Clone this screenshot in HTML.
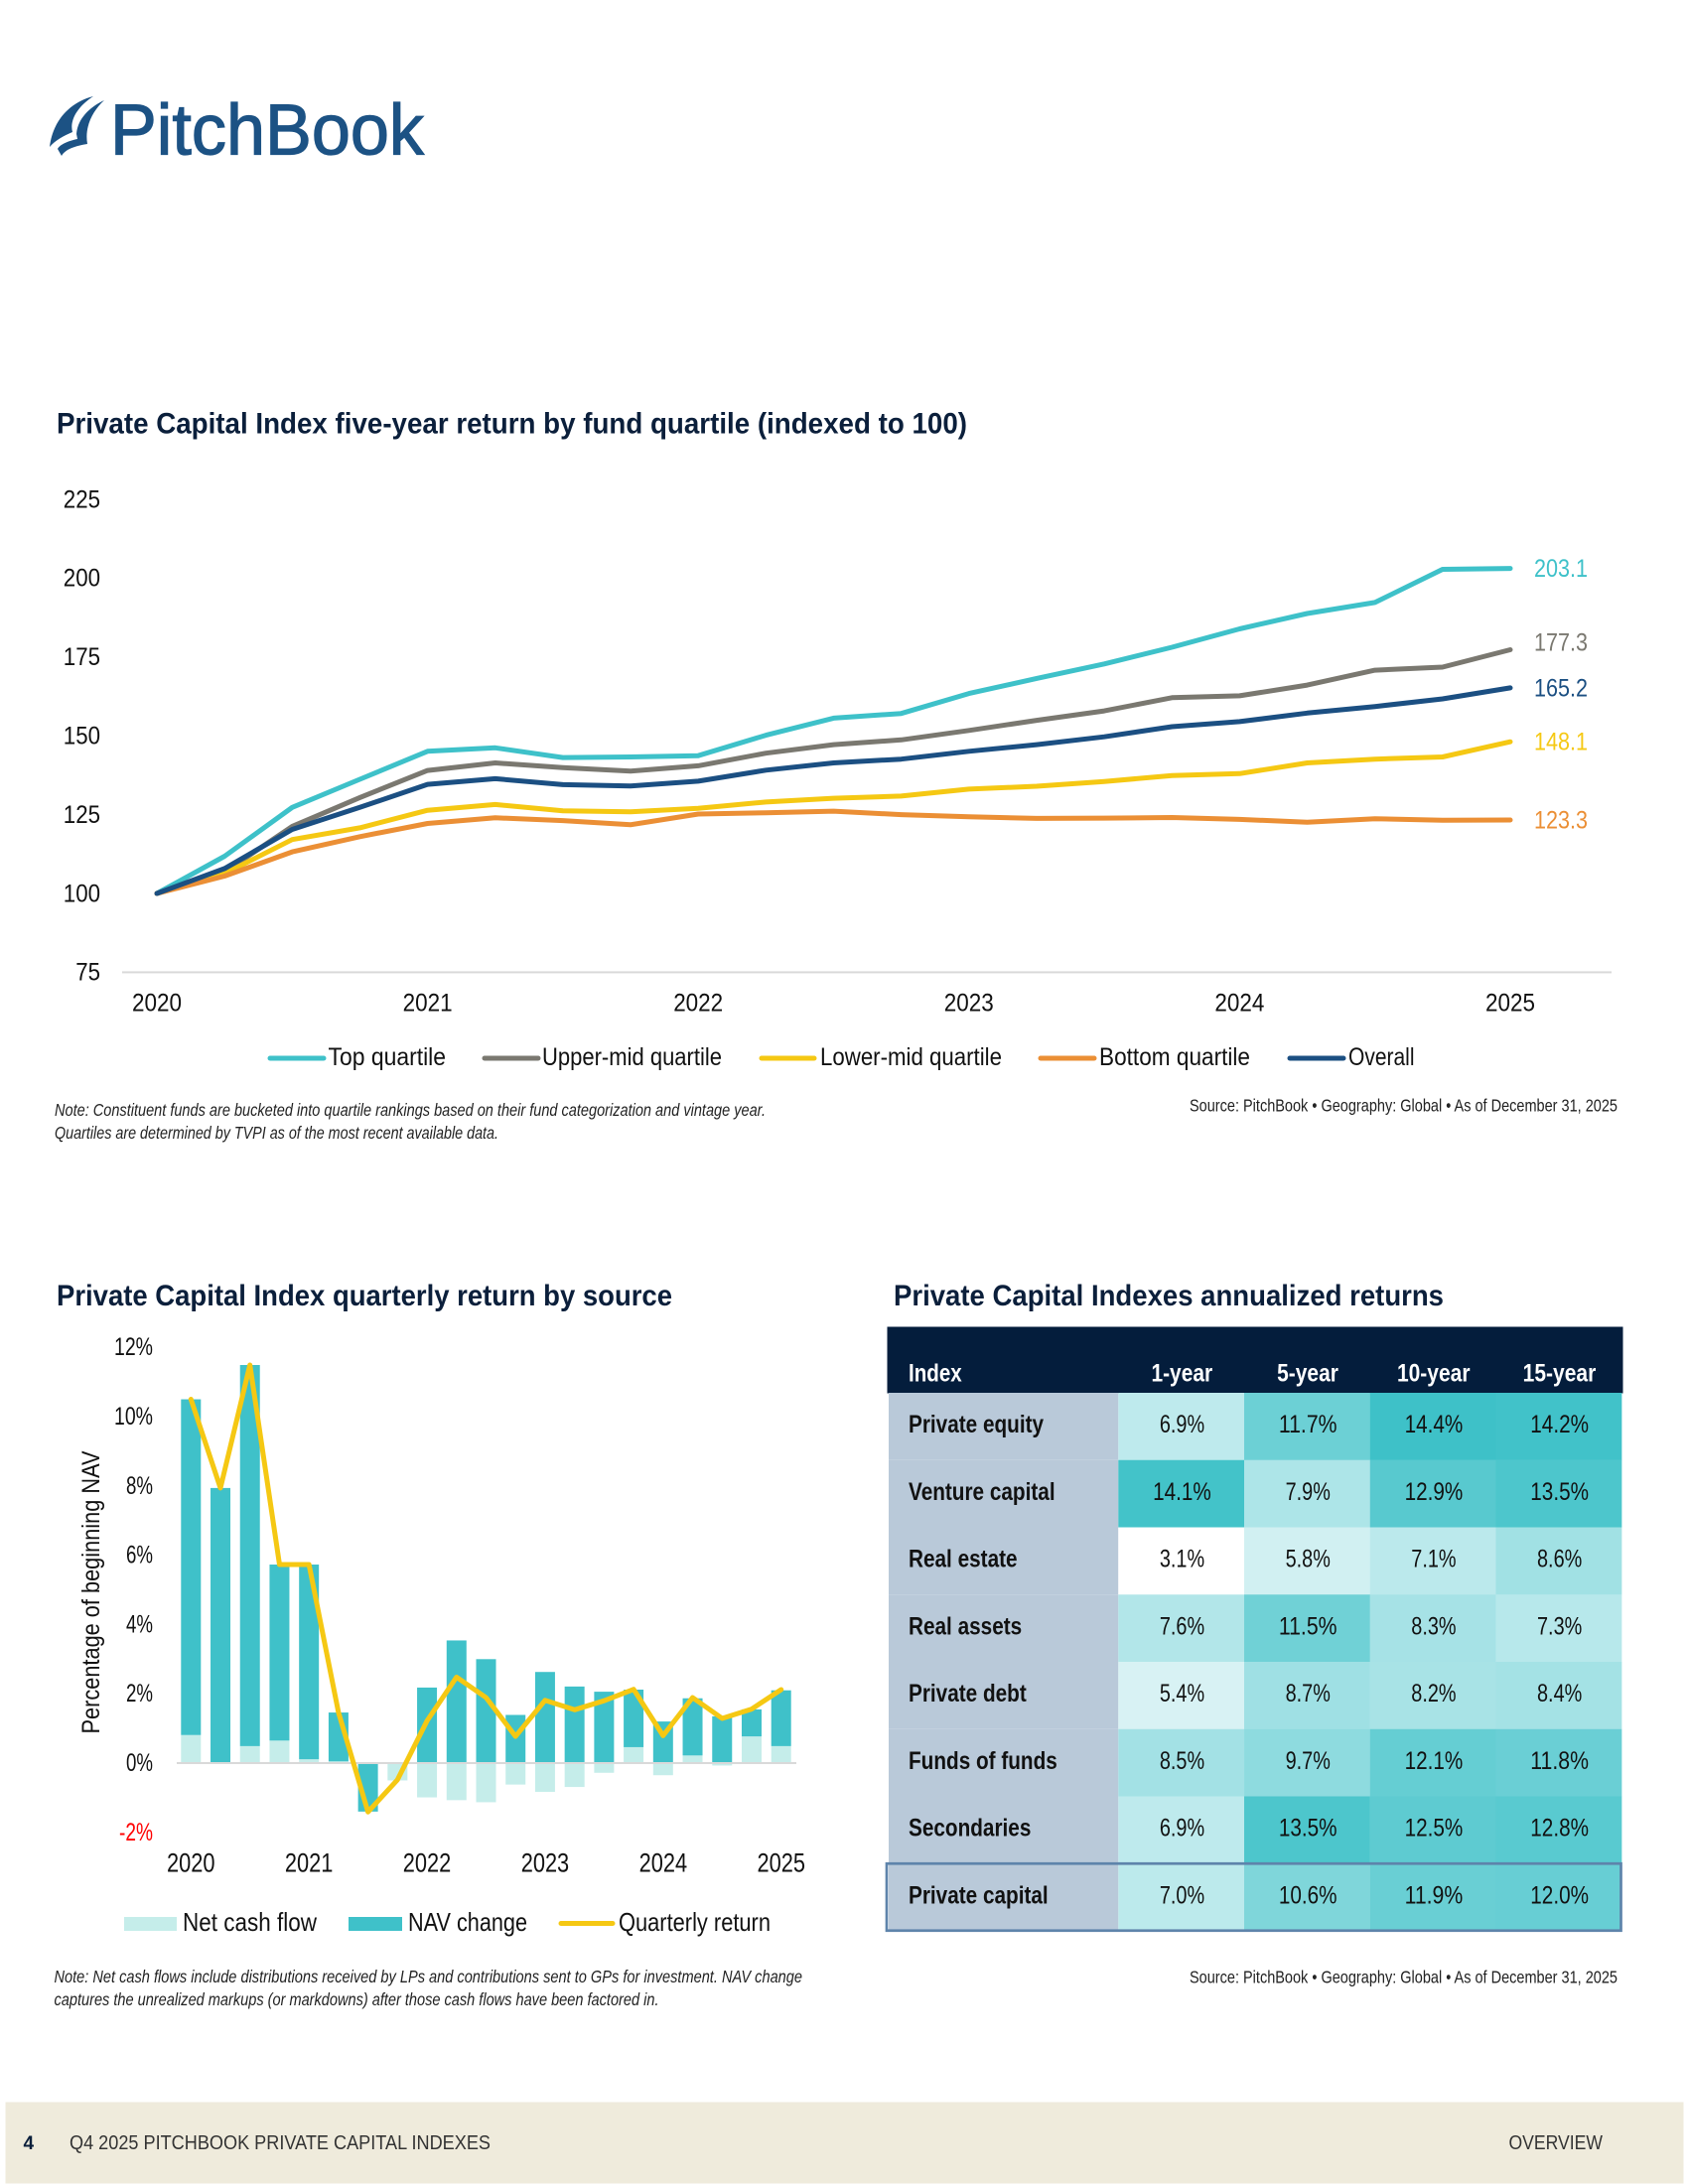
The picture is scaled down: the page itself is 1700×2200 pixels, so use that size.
<!DOCTYPE html>
<html lang="en">
<head>
<meta charset="utf-8">
<title>PitchBook Private Capital Indexes</title>
<style>
html,body{margin:0;padding:0;background:#fff;}
svg{display:block;}
text{font-family:"Liberation Sans",Arial,sans-serif;}
.t{font-weight:bold;font-size:30px;fill:#0B1F3B;}
.lg{font-size:25px;fill:#111;}
.nt{font-size:17.5px;font-style:italic;fill:#222;}
.sr{font-size:17.5px;fill:#222;}
</style>
</head>
<body>
<svg id="page" xmlns="http://www.w3.org/2000/svg" width="1700" height="2200" viewBox="0 0 1700 2200">
  <rect x="0" y="0" width="1700" height="2200" fill="#fff"/>

  <g>
    <path fill="#1C5284" d="M94 97C70 103 53 122 50 148C56 141 64 137 73 133C70 122 77 108 94 97Z"/>
    <path fill="#1C5284" d="M105 101C90 108 78 120 77 135L78 140C68 142 60 146 58 150L62 157C66 150 76 147 88 145C85 128 93 112 105 101Z"/>
    <text x="111" y="155.5" font-size="72" fill="#1C5284" stroke="#1C5284" stroke-width="1.2" textLength="316" lengthAdjust="spacingAndGlyphs">PitchBook</text>
  </g>

  <text class="t" x="57" y="436.5" textLength="917" lengthAdjust="spacingAndGlyphs">Private Capital Index five-year return by fund quartile (indexed to 100)</text>
  <g id="lineChart"></g>

  <g>
    <g>
      <line x1="272" x2="326" y1="1066" y2="1066" stroke="#3EC1C9" stroke-width="5" stroke-linecap="round"/>
      <text class="lg" x="330.5" y="1073" textLength="118.5" lengthAdjust="spacingAndGlyphs">Top quartile</text>
    </g>
    <g>
      <line x1="488" x2="542" y1="1066" y2="1066" stroke="#7A7870" stroke-width="5" stroke-linecap="round"/>
      <text class="lg" x="546" y="1073" textLength="181" lengthAdjust="spacingAndGlyphs">Upper-mid quartile</text>
    </g>
    <g>
      <line x1="767" x2="820" y1="1066" y2="1066" stroke="#F5C813" stroke-width="5" stroke-linecap="round"/>
      <text class="lg" x="826" y="1073" textLength="183" lengthAdjust="spacingAndGlyphs">Lower-mid quartile</text>
    </g>
    <g>
      <line x1="1048" x2="1102" y1="1066" y2="1066" stroke="#EB8F35" stroke-width="5" stroke-linecap="round"/>
      <text class="lg" x="1107" y="1073" textLength="152" lengthAdjust="spacingAndGlyphs">Bottom quartile</text>
    </g>
    <g>
      <line x1="1299" x2="1353" y1="1066" y2="1066" stroke="#1B4F82" stroke-width="5" stroke-linecap="round"/>
      <text class="lg" x="1358" y="1073" textLength="66.5" lengthAdjust="spacingAndGlyphs">Overall</text>
    </g>
  </g>

  <text class="nt" x="55" y="1124" textLength="716" lengthAdjust="spacingAndGlyphs">Note: Constituent funds are bucketed into quartile rankings based on their fund categorization and vintage year.</text>
  <text class="nt" x="55" y="1147" textLength="447" lengthAdjust="spacingAndGlyphs">Quartiles are determined by TVPI as of the most recent available data.</text>
  <text class="sr" x="1198" y="1119.5" textLength="431" lengthAdjust="spacingAndGlyphs">Source: PitchBook • Geography: Global • As of December 31, 2025</text>

  <text class="t" x="57" y="1315" textLength="620" lengthAdjust="spacingAndGlyphs">Private Capital Index quarterly return by source</text>
  <g id="barChart"></g>
  <text transform="translate(100,1604) rotate(-90)" text-anchor="middle" font-size="25" fill="#111" textLength="285" lengthAdjust="spacingAndGlyphs">Percentage of beginning NAV</text>

  <g>
    <g>
      <rect x="125" y="1931" width="53" height="14" fill="#C5EDEA"/>
      <text class="lg" x="184" y="1945" textLength="135" lengthAdjust="spacingAndGlyphs" style="font-size:26px">Net cash flow</text>
    </g>
    <g>
      <rect x="351" y="1931" width="54" height="14" fill="#3FC1C9"/>
      <text class="lg" x="411" y="1945" textLength="120" lengthAdjust="spacingAndGlyphs" style="font-size:26px">NAV change</text>
    </g>
    <g>
      <line x1="565" x2="617" y1="1937.5" y2="1937.5" stroke="#F5C813" stroke-width="5" stroke-linecap="round"/>
      <text class="lg" x="623" y="1945" textLength="153" lengthAdjust="spacingAndGlyphs" style="font-size:26px">Quarterly return</text>
    </g>
  </g>

  <text class="nt" x="54.5" y="1997" textLength="753.5" lengthAdjust="spacingAndGlyphs">Note: Net cash flows include distributions received by LPs and contributions sent to GPs for investment. NAV change</text>
  <text class="nt" x="54.5" y="2020" textLength="609" lengthAdjust="spacingAndGlyphs">captures the unrealized markups (or markdowns) after those cash flows have been factored in.</text>

  <text class="t" x="900" y="1315" textLength="554" lengthAdjust="spacingAndGlyphs">Private Capital Indexes annualized returns</text>
  <g id="heatTable"></g>
  <text class="sr" x="1198" y="1997.5" textLength="431" lengthAdjust="spacingAndGlyphs">Source: PitchBook • Geography: Global • As of December 31, 2025</text>

  <g>
    <rect x="5.5" y="2117.5" width="1690" height="82" fill="#EFEBDC"/>
    <text x="23.5" y="2165" font-size="19" font-weight="bold" fill="#0B1F3B">4</text>
    <text x="70" y="2165" font-size="20" fill="#333" textLength="424" lengthAdjust="spacingAndGlyphs">Q4 2025 PITCHBOOK PRIVATE CAPITAL INDEXES</text>
    <text x="1519.5" y="2165" font-size="20" fill="#333" textLength="94.5" lengthAdjust="spacingAndGlyphs">OVERVIEW</text>
  </g>
</svg>

<script>
// ---- Line chart data ----
const lineYears = ["2020","2021","2022","2023","2024","2025"];
const lineYTicks = [225,200,175,150,125,100,75];
const topQuartile = [100,111.8,127.3,136.2,145.1,146.2,143.1,143.3,143.7,150.2,155.6,157.1,163.4,168.2,172.8,178.1,183.9,188.8,192.3,202.8,203.1];
const upperMidQuartile = [100,106.8,121.3,130.4,139.0,141.4,139.9,138.8,140.5,144.5,147.2,148.7,151.7,154.9,157.9,162.1,162.7,166.1,170.8,171.8,177.3];
const lowerMidQuartile = [100,106.3,117.1,120.8,126.4,128.2,126.2,125.9,127.0,129.0,130.2,130.9,133.1,134.0,135.5,137.4,138.0,141.4,142.6,143.3,148.1];
const bottomQuartile = [100,105.5,113.2,118.0,122.2,124.0,123.1,121.8,125.2,125.6,126.1,125.0,124.3,123.8,123.9,124.1,123.5,122.6,123.7,123.2,123.3];
const overallIndex = [100,107.9,120.3,127.3,134.6,136.4,134.5,134.1,135.6,139.1,141.4,142.6,145.1,147.2,149.7,152.9,154.5,157.2,159.3,161.7,165.2];

// ---- Bar chart data ----
const barYears = ["2020","2021","2022","2023","2024","2025"];
const barYTicks = [12,10,8,6,4,2,0,-2];
const netCashFlow = [0.81,0.02,0.49,0.65,0.11,0.05,0,-0.5,-0.99,-1.07,-1.13,-0.62,-0.83,-0.69,-0.28,0.46,-0.35,0.22,-0.07,0.77,0.49];
const navChange = [9.69,7.92,11.0,5.08,5.62,1.41,-1.4,0.02,2.18,3.54,3.0,1.39,2.63,2.21,2.06,1.66,1.2,1.65,1.35,0.78,1.61];
const quarterlyReturn = [10.5,7.94,11.49,5.73,5.73,1.46,-1.41,-0.48,1.22,2.48,1.89,0.77,1.81,1.54,1.8,2.13,0.79,1.89,1.29,1.56,2.12];

// ---- Table data ----
const tableColumns = ["1-year","5-year","10-year","15-year"];
const tableRows = ["Private equity","Venture capital","Real estate","Real assets","Private debt","Funds of funds","Secondaries","Private capital"];
const tableValues = [
  [6.9,11.7,14.4,14.2],
  [14.1,7.9,12.9,13.5],
  [3.1,5.8,7.1,8.6],
  [7.6,11.5,8.3,7.3],
  [5.4,8.7,8.2,8.4],
  [8.5,9.7,12.1,11.8],
  [6.9,13.5,12.5,12.8],
  [7.0,10.6,11.9,12.0]
];

const NS = "http://www.w3.org/2000/svg";
function mk(parent, tag, props){
  const e = document.createElementNS(NS, tag);
  for (const k in props) e.setAttribute(k, props[k]);
  parent.appendChild(e);
  return e;
}
function txt(parent, str, x, y, size, fill, anchor, width, weight){
  const e = mk(parent, "text", {x:x, y:y, "font-size":size, fill:fill, "text-anchor":anchor});
  if (width) { e.setAttribute("textLength", width); e.setAttribute("lengthAdjust", "spacingAndGlyphs"); }
  if (weight) e.setAttribute("font-weight", weight);
  e.textContent = str;
  return e;
}

// ---- Line chart ----
const lineG = document.getElementById("lineChart");
const lineX = i => 158 + i * (1521 - 158) / 20;
const lineY = v => 900 - (v - 100) * 3.176;

lineYTicks.forEach(v => {
  const s = String(v);
  const t = txt(lineG, s, 101, lineY(v) + 8.3, 25, "#111", "end", 12.4 * s.length);
  
  
});
const lineAxis = mk(lineG, "line", {x1:123, x2:1623, y1:lineY(75), y2:lineY(75), stroke:"#d9d9d9", "stroke-width":2});


lineYears.forEach((y, i) => {
  const t = txt(lineG, y, lineX(i * 4), 1018.5, 25, "#111", "middle", 50);
  
  
});

const lineSeries = [
  {key:"top-quartile", values:topQuartile, color:"#3EC1C9", nudge:0},
  {key:"upper-mid-quartile", values:upperMidQuartile, color:"#7A7870", nudge:-7.5},
  {key:"lower-mid-quartile", values:lowerMidQuartile, color:"#F5C813", nudge:0},
  {key:"bottom-quartile", values:bottomQuartile, color:"#EB8F35", nudge:0},
  {key:"overall", values:overallIndex, color:"#1B4F82", nudge:0}
];
lineSeries.forEach(s => {
  const pts = s.values.map((v, i) => lineX(i).toFixed(1) + "," + lineY(v).toFixed(1)).join(" ");
  const p = mk(lineG, "polyline", {points:pts, fill:"none", stroke:s.color, "stroke-width":5, "stroke-linejoin":"round", "stroke-linecap":"round"});
  
  
  const last = s.values[s.values.length - 1];
  const l = txt(lineG, last.toFixed(1), 1545, lineY(last) + s.nudge + 8.5, 25, s.color, "start", 54);
  
  
});

// ---- Bar chart ----
const barG = document.getElementById("barChart");
const barX = i => 192.3 + i * 29.72;
const barY = v => 1776 - v * 34.9;
const barW = 20;

barYTicks.forEach(v => {
  const t = txt(barG, v + "%", 154, barY(v) + 8, 25, v < 0 ? "#f00" : "#111", "end", v >= 10 ? 39 : (v < 0 ? 34 : 27));
  
  
});
function stackedBar(i, v, base, color, name){
  const a = barY(base), b = barY(base + v);
  const r = mk(barG, "rect", {x:barX(i) - barW / 2, y:Math.min(a, b), width:barW, height:Math.abs(a - b), fill:color});
  
  
}
netCashFlow.forEach((net, i) => {
  const nav = navChange[i];
  stackedBar(i, net, 0, "#C5EDEA", 'bar-net-cash-flow');
  const base = (net >= 0) === (nav >= 0) ? net : 0;
  stackedBar(i, nav, base, "#3FC1C9", 'bar-nav-change');
});
const barAxis = mk(barG, "line", {x1:178, x2:802, y1:barY(0), y2:barY(0), stroke:"#d9d9d9", "stroke-width":2});


const retPts = quarterlyReturn.map((v, i) => barX(i).toFixed(1) + "," + barY(v).toFixed(1)).join(" ");
const retLine = mk(barG, "polyline", {points:retPts, fill:"none", stroke:"#F5C813", "stroke-width":5, "stroke-linejoin":"round", "stroke-linecap":"round"});


barYears.forEach((y, i) => {
  const t = txt(barG, y, barX(i * 4), 1885.5, 26.5, "#111", "middle", 48.5);
  
  
});

// ---- Heat table ----
const tableG = document.getElementById("heatTable");
const colX = c => 1126.3 + c * 126.72;
const rowY = r => 1403 + r * 67.75;
const labelX = 915;
const heat = v => {
  const t = Math.max(0, Math.min(1, (v - 3.1) / 11.3));
  const ch = (a, b) => Math.round(a + (b - a) * t);
  return "rgb(" + ch(255, 62) + "," + ch(255, 193) + "," + ch(255, 200) + ")";
};
const headBand = mk(tableG, "rect", {x:893.5, y:1336.5, width:741, height:67, fill:"#041D3C"});


const headIndex = txt(tableG, "Index", labelX, 1391.5, 25, "#fff", "start", 53.7, "bold");


tableColumns.forEach((c, j) => {
  const t = txt(tableG, c, colX(j) + 64, 1391.5, 25, "#fff", "middle", 11.9 * c.length - 9.7, "bold");
  
  
});
tableRows.forEach((name, i) => {
  const bg = mk(tableG, "rect", {x:895, y:rowY(i), width:1126.3 - 895, height:67.75, fill:"#B9C9D9"});
  
  
  const lab = mk(tableG, "text", {transform:"translate(" + labelX + "," + (rowY(i) + 40) + ") scale(0.83,1)", "font-size":25, "font-weight":"bold", fill:"#111"});
  lab.textContent = name;
  
  
  tableValues[i].forEach((v, j) => {
    const cell = mk(tableG, "rect", {x:colX(j), y:rowY(i), width:126.9, height:67.95, fill:heat(v)});
    
    
    const s = v.toFixed(1) + "%";
    const t = txt(tableG, s, colX(j) + 64.2, rowY(i) + 40, 25, "#111", "middle", 13.4 * (s.length - 2) + 18.5);
    
    
  });
});
const highlight = mk(tableG, "rect", {x:893, y:rowY(7), width:739.5, height:67.5, fill:"none", stroke:"#5E84AB", "stroke-width":2.7});


</script>
</body>
</html>
